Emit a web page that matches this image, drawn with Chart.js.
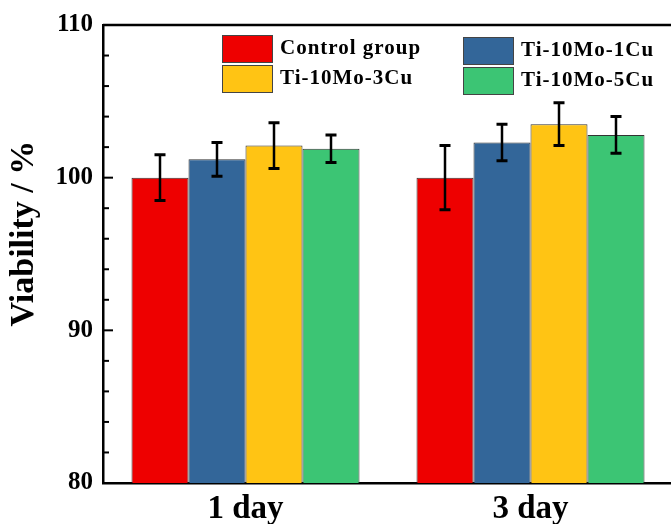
<!DOCTYPE html>
<html>
<head>
<meta charset="utf-8">
<script src="https://cdn.jsdelivr.net/npm/chart.js@4/dist/chart.umd.min.js"></script>
<style>
    html, body { margin: 0; padding: 0; background: #fff; overflow: hidden; }
    #wrap { position: absolute; left: 0; top: 0; width: 673px; height: 524px; }
</style>
</head>
<body>
<div id="wrap"><canvas id="chart"></canvas></div>
<script>
// data
const categories = ['1 day', '3 day'];
const seriesNames = ['Control group', 'Ti-10Mo-1Cu', 'Ti-10Mo-3Cu', 'Ti-10Mo-5Cu'];
const controlMean = [100.0, 100.0];
const controlErr = [1.5, 2.1];
const cu1Mean = [101.2, 102.3];
const cu1Err = [1.1, 1.2];
const cu3Mean = [102.1, 103.5];
const cu3Err = [1.5, 1.4];
const cu5Mean = [101.9, 102.8];
const cu5Err = [0.9, 1.2];
const yTickLabels = [80, 90, 100, 110];

const FONT = '"Liberation Serif", "Times New Roman", serif';
const colors = ['#EE0000', '#336699', '#FFC414', '#3CC574'];
const means = [controlMean, cu1Mean, cu3Mean, cu5Mean];
const errs = [controlErr, cu1Err, cu3Err, cu5Err];

// error bars on top of each bar
const errorBars = {
    id: 'errorBars',
    afterDatasetsDraw(chart) {
        const ctx = chart.ctx;
        const y = chart.scales.y;
        ctx.save();
        ctx.strokeStyle = '#000';
        chart.data.datasets.forEach((ds, i) => {
            chart.getDatasetMeta(i).data.forEach((bar, j) => {
                const top = y.getPixelForValue(ds.data[j] + ds.errors[j]);
                const bot = y.getPixelForValue(ds.data[j] - ds.errors[j]);
                ctx.lineWidth = 2.5;
                ctx.beginPath();
                ctx.moveTo(bar.x, top);
                ctx.lineTo(bar.x, bot);
                ctx.stroke();
                ctx.lineWidth = 3;
                ctx.beginPath();
                ctx.moveTo(bar.x - 5.5, top);
                ctx.lineTo(bar.x + 5.5, top);
                ctx.moveTo(bar.x - 5.5, bot);
                ctx.lineTo(bar.x + 5.5, bot);
                ctx.stroke();
            });
        });
        ctx.restore();
    }
};

// frame + inward ticks (major every 10, minor every 2)
const frame = {
    id: 'frame',
    afterDraw(chart) {
        const ctx = chart.ctx;
        const a = chart.chartArea;
        const y = chart.scales.y;
        ctx.save();
        ctx.strokeStyle = '#000';
        ctx.lineWidth = 2.5;
        ctx.beginPath();
        ctx.moveTo(a.left, a.top);
        ctx.lineTo(a.right, a.top);
        ctx.lineTo(a.right, a.bottom);
        ctx.stroke();
        ctx.lineWidth = 2;
        for (let v = y.min; v <= y.max; v += 2) {
            const py = y.getPixelForValue(v);
            const len = v % 10 === 0 ? 10 : 6;
            ctx.beginPath();
            ctx.moveTo(a.left, py);
            ctx.lineTo(a.left + len, py);
            ctx.stroke();
        }
        ctx.restore();
    }
};

// two-column legend inside the plot
const boxLegend = {
    id: 'boxLegend',
    afterDraw(chart) {
        const ctx = chart.ctx;
        const a = chart.chartArea;
        ctx.save();
        ctx.font = 'bold 21px ' + FONT;
        if ('letterSpacing' in ctx) ctx.letterSpacing = '1px';
        ctx.textBaseline = 'middle';
        ctx.fillStyle = '#000';
        chart.data.datasets.forEach((ds, i) => {
            const col = i % 2;
            const row = Math.floor(i / 2);
            const bx = a.left + 119 + col * 241;
            const by = a.top + 10 + row * 30 + col * 2;
            ctx.fillStyle = ds.backgroundColor;
            ctx.fillRect(bx, by, 50, 27);
            ctx.strokeStyle = '#444';
            ctx.lineWidth = 1;
            ctx.strokeRect(bx + 0.5, by + 0.5, 50, 27);
            ctx.fillStyle = '#000';
            ctx.fillText(ds.label, bx + 58, by + 14);
        });
        ctx.restore();
    }
};

new Chart(document.getElementById('chart'), {
    type: 'bar',
    data: {
        labels: categories,
        datasets: seriesNames.map((name, i) => ({
            label: name,
            data: means[i],
            errors: errs[i],
            backgroundColor: colors[i],
            borderColor: '#333',
            borderWidth: 1,
            categoryPercentage: 0.8,
            barPercentage: 1.0
        }))
    },
    options: {
        responsive: true,
        maintainAspectRatio: false,
        animation: false,
        layout: { padding: { top: 23, right: 0, left: 0, bottom: 0 } },
        plugins: {
            legend: { display: false },
            tooltip: { enabled: false }
        },
        scales: {
            x: {
                grid: { display: false, drawTicks: false },
                border: { display: true, color: '#000', width: 2.5 },
                ticks: {
                    color: '#000',
                    padding: 7,
                    font: { family: FONT, size: 33, weight: 'bold' }
                },
                afterFit: (scale) => { scale.height = 41; }
            },
            y: {
                min: 80,
                max: 110,
                grid: { display: false, drawTicks: false },
                border: { display: true, color: '#000', width: 2.5 },
                ticks: {
                    stepSize: 2,
                    autoSkip: false,
                    color: '#000',
                    padding: 10,
                    font: { family: FONT, size: 25, weight: 'bold' },
                    callback: (v) => yTickLabels.includes(v) ? String(v) : ''
                },
                title: {
                    display: true,
                    // leading spaces nudge the title up, as in the reference
                    text: '\u2002\u2002\u2009Viability / %',
                    color: '#000',
                    padding: { top: 4, bottom: 0 },
                    font: { family: FONT, size: 34, weight: 'bold' }
                },
                afterFit: (scale) => { scale.width = 103; }
            }
        }
    },
    plugins: [errorBars, frame, boxLegend]
});
</script>
</body>
</html>
